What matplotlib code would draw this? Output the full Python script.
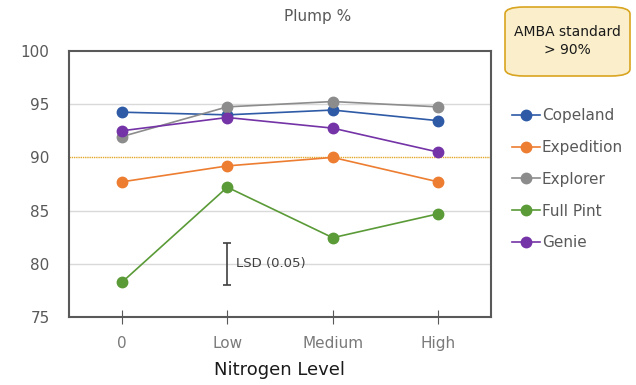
import matplotlib
matplotlib.use("Agg")
import matplotlib.pyplot as plt
from matplotlib.patches import FancyBboxPatch

plt.rcParams['font.family'] = ['DejaVu Sans']

categories = ["0", "Low", "Medium", "High"]
series_names = ["Copeland", "Expedition", "Explorer", "Full Pint", "Genie"]
copeland = [94.25, 94.0, 94.45, 93.45]
expedition = [87.7, 89.2, 90.0, 87.7]
explorer = [91.95, 94.75, 95.25, 94.75]
full_pint = [78.25, 87.2, 82.45, 84.7]
genie = [92.5, 93.75, 92.75, 90.5]
colors = ["#2E5AA6", "#ED7D31", "#8C8C8C", "#5A9A37", "#7433A6"]
yticks = [75, 80, 85, 90, 95, 100]
standard = 90
lsd_low, lsd_high = 78.0, 82.0

fig = plt.figure(figsize=(6.36, 3.85), dpi=100)
ax = fig.add_axes([69/636, 1-317/385, (491-69)/636, (317-51)/385])

x = list(range(len(categories)))
for name, vals, c in zip(series_names, [copeland, expedition, explorer, full_pint, genie], colors):
    ax.plot(x, vals, color=c, lw=1.2, marker='o', markersize=7.5, label=name, zorder=3)

ax.axhline(standard, color="#E3A92B", lw=1.0, ls=(0, (1, 0.6)), zorder=2)
for yv in [80, 85, 95]:
    ax.axhline(yv, color="#D9D9D9", lw=1.0, zorder=1)

# LSD bar
ax.errorbar([1], [(lsd_low + lsd_high) / 2], yerr=[[(lsd_high - lsd_low) / 2]],
            color="#404040", lw=1.2, capsize=3, capthick=1.2, fmt='none', zorder=4)
ax.text(1.08, 80.0, "LSD (0.05)", fontsize=9.5, color="#404040", va='center', ha='left')

ax.set_xlim(-0.5, 3.5)
ax.set_ylim(75, 100)
ax.set_yticks(yticks)
ax.set_yticklabels([str(v) for v in yticks])
ax.set_xticks(x)
ax.set_xticklabels(categories)
ax.tick_params(axis='x', which='major', direction='inout', length=10, color="#595959",
               labelsize=11, labelcolor="#7a7a7a", pad=9)
ax.tick_params(axis='y', length=0, labelsize=11, labelcolor="#595959", pad=14)
for s in ax.spines.values():
    s.set_color("#595959")
    s.set_linewidth(1.5)

ax.set_xlabel("Nitrogen Level", fontsize=13, color="#1a1a1a", labelpad=7)
fig.text(318/636, 1-17/385, "Plump %", fontsize=11, color="#595959", ha='center', va='center')

handles, labels = ax.get_legend_handles_labels()
leg = fig.legend(handles, labels, loc='upper left', bbox_to_anchor=(506/636, 1-102/385),
                 frameon=False, fontsize=11, labelcolor="#595959", handlelength=1.8,
                 handletextpad=0.15, labelspacing=1.1, borderaxespad=0)

box = FancyBboxPatch((505/636, 1-76/385), (630-505)/636, (76-7)/385,
                     boxstyle="round,pad=0,rounding_size=0.03",
                     transform=fig.transFigure, facecolor="#FBEFCB", edgecolor="#D9A520",
                     lw=1.2, mutation_aspect=385/636)
fig.patches.append(box)
fig.text(567/636, 1-41/385, "AMBA standard\n> 90%", fontsize=10, color="#1a1a1a",
         ha='center', va='center', linespacing=1.4)

fig.savefig("out.png", dpi=100)
